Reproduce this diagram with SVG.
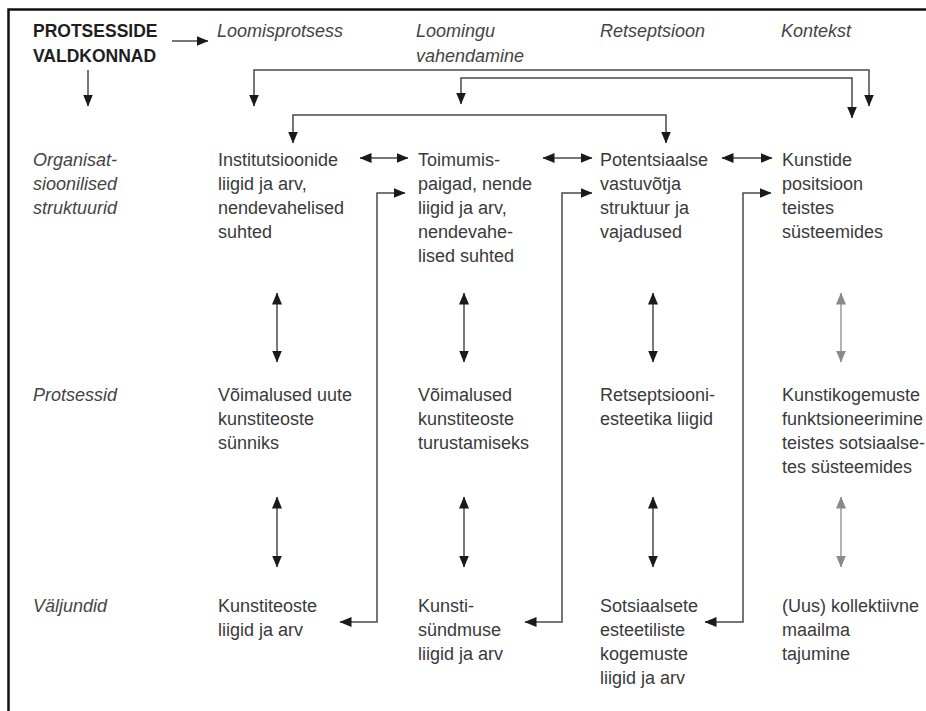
<svg xmlns="http://www.w3.org/2000/svg" width="926" height="711" viewBox="0 0 926 711">
<defs>
<marker id="ah" markerUnits="userSpaceOnUse" markerWidth="13" markerHeight="11" refX="11.5" refY="5" orient="auto-start-reverse"><path d="M0,0 L12,5 L0,10 z" fill="#1a1a1a"/></marker>
<marker id="ahg" markerUnits="userSpaceOnUse" markerWidth="13" markerHeight="11" refX="11.5" refY="5" orient="auto-start-reverse"><path d="M0,0 L12,5 L0,10 z" fill="#8a8a8a"/></marker>
</defs>
<style>
text{font-family:"Liberation Sans",Arial,sans-serif;font-size:18px;fill:#3a3a3a}
.hd{font-weight:bold;font-size:17.5px;fill:#1e1e1e}
.it{font-style:italic;fill:#444}
.c{fill:none;stroke:#4a4a4a;stroke-width:1.5;marker-start:url(#ah);marker-end:url(#ah)}
.e{fill:none;stroke:#4a4a4a;stroke-width:1.5;marker-end:url(#ah)}
.g{fill:none;stroke:#9a9a9a;stroke-width:1.5;marker-start:url(#ahg);marker-end:url(#ahg)}
</style>
<rect width="926" height="711" fill="#fff"/>
<path d="M8.5,711 V9.5 H926" fill="none" stroke="#111" stroke-width="2.5"/>

<g id="title"><text class="hd" x="33" y="37">PROTSESSIDE<tspan x="33" y="62">VALDKONNAD</tspan></text></g>
<g id="h-loomisprotsess"><text class="it" x="217" y="37">Loomisprotsess</text></g>
<g id="h-vahendamine"><text class="it" x="416" y="37">Loomingu<tspan x="416" y="62">vahendamine</tspan></text></g>
<g id="h-retseptsioon"><text class="it" x="600" y="37">Retseptsioon</text></g>
<g id="h-kontekst"><text class="it" x="781" y="37">Kontekst</text></g>

<g id="r-org"><text class="it" x="33" y="166">Organisat-<tspan x="33" y="190">sioonilised</tspan><tspan x="33" y="214">struktuurid</tspan></text></g>
<g id="r-prot"><text class="it" x="33" y="401">Protsessid</text></g>
<g id="r-valj"><text class="it" x="33" y="612">Väljundid</text></g>

<g id="n11"><text x="218" y="166">Institutsioonide<tspan x="218" y="190">liigid ja arv,</tspan><tspan x="218" y="214">nendevahelised</tspan><tspan x="218" y="238">suhted</tspan></text></g>
<g id="n12"><text x="418" y="166">Toimumis-<tspan x="418" y="190">paigad, nende</tspan><tspan x="418" y="214">liigid ja arv,</tspan><tspan x="418" y="238">nendevahe-</tspan><tspan x="418" y="262">lised suhted</tspan></text></g>
<g id="n13"><text x="600" y="166">Potentsiaalse<tspan x="600" y="190">vastuvõtja</tspan><tspan x="600" y="214">struktuur ja</tspan><tspan x="600" y="238">vajadused</tspan></text></g>
<g id="n14"><text x="782" y="166">Kunstide<tspan x="782" y="190">positsioon</tspan><tspan x="782" y="214">teistes</tspan><tspan x="782" y="238">süsteemides</tspan></text></g>

<g id="n21"><text x="218" y="401">Võimalused uute<tspan x="218" y="425">kunstiteoste</tspan><tspan x="218" y="449">sünniks</tspan></text></g>
<g id="n22"><text x="418" y="401">Võimalused<tspan x="418" y="425">kunstiteoste</tspan><tspan x="418" y="449">turustamiseks</tspan></text></g>
<g id="n23"><text x="600" y="401">Retseptsiooni-<tspan x="600" y="425">esteetika liigid</tspan></text></g>
<g id="n24"><text x="782" y="401">Kunstikogemuste<tspan x="782" y="425">funktsioneerimine</tspan><tspan x="782" y="449">teistes sotsiaalse-</tspan><tspan x="782" y="473">tes süsteemides</tspan></text></g>

<g id="n31"><text x="218" y="612">Kunstiteoste<tspan x="218" y="636">liigid ja arv</tspan></text></g>
<g id="n32"><text x="418" y="612">Kunsti-<tspan x="418" y="636">sündmuse</tspan><tspan x="418" y="660">liigid ja arv</tspan></text></g>
<g id="n33"><text x="600" y="612">Sotsiaalsete<tspan x="600" y="636">esteetiliste</tspan><tspan x="600" y="660">kogemuste</tspan><tspan x="600" y="684">liigid ja arv</tspan></text></g>
<g id="n34"><text x="782" y="612">(Uus) kollektiivne<tspan x="782" y="636">maailma</tspan><tspan x="782" y="660">tajumine</tspan></text></g>

<g id="connectors">
<path class="e" d="M172,41 H208"/>
<path class="e" d="M88,70 V106"/>
<path class="c" d="M254,106 V70 H869 V106"/>
<path class="c" d="M461,104 V78 H852 V118"/>
<path class="c" d="M293,143 V115 H666 V143"/>
<path class="c" d="M360,158 H408"/>
<path class="c" d="M543,158 H592"/>
<path class="c" d="M722,158 H772"/>
<path class="c" d="M340,622 H377 V193 H405"/>
<path class="c" d="M525,622 H562 V193 H592"/>
<path class="c" d="M705,622 H743 V193 H771"/>
<path class="c" d="M277,293 V362"/>
<path class="c" d="M464,293 V362"/>
<path class="c" d="M653,293 V362"/>
<path class="g" d="M841,293 V362"/>
<path class="c" d="M277,497 V567"/>
<path class="c" d="M464,497 V567"/>
<path class="c" d="M653,497 V567"/>
<path class="g" d="M841,497 V567"/>
</g>
</svg>
